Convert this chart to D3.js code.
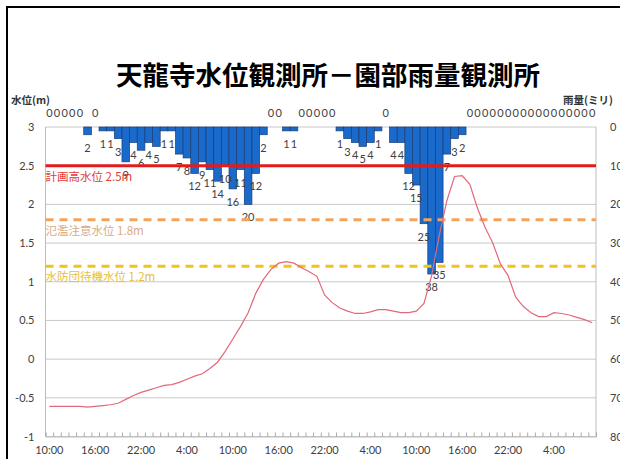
<!DOCTYPE html>
<html><head><meta charset="utf-8">
<script src="https://cdn.jsdelivr.net/npm/d3@7"></script>
<style>
html,body{margin:0;padding:0;background:#fff;}
svg{display:block;}
</style>
</head><body>
<svg id="c" width="620" height="459"></svg>
<script>
// ---- data ----
const categories = [
 "10:00","11:00","12:00","13:00","14:00","15:00","16:00","17:00","18:00","19:00","20:00","21:00",
 "22:00","23:00","0:00","1:00","2:00","3:00","4:00","5:00","6:00","7:00","8:00","9:00",
 "10:00","11:00","12:00","13:00","14:00","15:00","16:00","17:00","18:00","19:00","20:00","21:00",
 "22:00","23:00","0:00","1:00","2:00","3:00","4:00","5:00","6:00","7:00","8:00","9:00",
 "10:00","11:00","12:00","13:00","14:00","15:00","16:00","17:00","18:00","19:00","20:00","21:00",
 "22:00","23:00","0:00","1:00","2:00","3:00","4:00","5:00","6:00","7:00","8:00","9:00"
];
const rainfall = [
 0,0,0,0,0,2,0,1,1,3,9,4,
 6,4,5,1,1,7,8,12,9,11,14,10,
 16,11,20,12,2,0,0,1,1,0,0,0,
 0,0,1,3,4,5,4,1,0,4,4,12,
 15,25,38,35,7,3,2,0,0,0,0,0,
 0,0,0,0,0,0,0,0,0,0,0,0
];
const waterLevel = [
 -0.61,-0.61,-0.61,-0.61,-0.61,-0.62,-0.61,-0.60,-0.59,-0.57,-0.52,-0.47,
 -0.43,-0.40,-0.37,-0.34,-0.33,-0.30,-0.26,-0.22,-0.19,-0.12,-0.04,0.10,
 0.26,0.42,0.60,0.85,1.03,1.16,1.24,1.26,1.24,1.18,1.13,1.07,
 0.83,0.73,0.66,0.62,0.59,0.59,0.61,0.64,0.64,0.62,0.60,0.60,
 0.62,0.72,1.08,1.60,2.05,2.36,2.37,2.26,1.95,1.70,1.50,1.23,
 1.08,0.80,0.68,0.60,0.55,0.55,0.60,0.59,0.57,0.54,0.51,0.47
];
const tickLabels = ["10:00","16:00","22:00","4:00","10:00","16:00","22:00","4:00","10:00","16:00","22:00","4:00"];
const levelTicks = [3,2.5,2,1.5,1,0.5,0,-0.5,-1];
const rainTicks = [0,10,20,30,40,50,60,70,80];
const refValues = [2.5,1.8,1.2];
const refNames = ["計画高水位 2.5m","氾濫注意水位 1.8m","水防団待機水位 1.2m"];
const title = "天龍寺水位観測所－園部雨量観測所";

// ---- layout ----
const svg = d3.select("#c");
const L = 45.5, R = 596, T = 127, B = 436.5;
const numFont = "Lato, 'Noto Sans', sans-serif";
const jpFont = "'Noto Sans CJK JP', sans-serif";

svg.append("rect").attr("x",0).attr("y",0).attr("width",620).attr("height",459).attr("fill","#fff");
svg.append("rect").attr("x",7).attr("y",7).attr("width",640).attr("height",480)
  .attr("fill","none").attr("stroke","#000").attr("stroke-width",2);

const x = d3.scaleBand().domain(d3.range(categories.length)).range([L,R]).padding(0);
const xl = d3.scaleLinear().domain([0,categories.length]).range([L,R]);
const yL = d3.scaleLinear().domain([-1,3]).range([B,T]);
const yR = d3.scaleLinear().domain([0,80]).range([T,B]);
const bw = x.bandwidth();

// gridlines
svg.append("g").selectAll("line").data(levelTicks).join("line")
  .attr("x1",L).attr("x2",R).attr("y1",d=>yL(d)).attr("y2",d=>yL(d))
  .attr("stroke","#c8c8c8").attr("stroke-width",1);
svg.append("line").attr("x1",L).attr("x2",L).attr("y1",T).attr("y2",B).attr("stroke","#bdbdbd");
svg.append("line").attr("x1",R).attr("x2",R).attr("y1",T).attr("y2",B).attr("stroke","#bdbdbd");

// left axis
const gl = svg.append("g").attr("transform",`translate(${L},0)`)
  .call(d3.axisLeft(yL).tickValues(levelTicks).tickSize(0).tickPadding(11).tickFormat(d=>String(d)));
gl.select(".domain").remove();
gl.selectAll("text").attr("font-family",numFont).attr("font-size",11).attr("fill","#404040");

// right axis
const gr = svg.append("g").attr("transform",`translate(${R},0)`)
  .call(d3.axisRight(yR).tickValues(rainTicks).tickSize(0).tickPadding(14));
gr.select(".domain").remove();
gr.selectAll("text").attr("font-family",numFont).attr("font-size",11).attr("fill","#404040");

// bottom minor ticks
const gt = svg.append("g").attr("transform",`translate(0,${B})`)
  .call(d3.axisBottom(xl).tickValues(d3.range(categories.length+1)).tickSize(-4).tickFormat(""));
gt.select(".domain").attr("stroke","#bdbdbd");
gt.selectAll("line").attr("stroke","#a8a8a8");

// bottom labels
const gb = svg.append("g").attr("transform",`translate(0,${B})`)
  .call(d3.axisBottom(x).tickValues(d3.range(0,categories.length,6)).tickSize(0).tickPadding(10)
        .tickFormat((d,i)=>tickLabels[i]));
gb.select(".domain").remove();
gb.selectAll("text").attr("font-family",numFont).attr("font-size",11).attr("fill","#404040");

// bars
svg.append("g").selectAll("rect").data(rainfall.map((v,i)=>({v,i})).filter(d=>d.v>0)).join("rect")
  .attr("x",d=>x(d.i)).attr("width",bw)
  .attr("y",yR(0)).attr("height",d=>yR(d.v)-yR(0))
  .attr("fill","#1a6acb").attr("stroke","#1a3c74").attr("stroke-width",0.7);

// bar labels
svg.append("g").selectAll("text").data(rainfall.map((v,i)=>({v,i}))).join("text")
  .attr("x",d=>x(d.i)+bw/2)
  .attr("y",d=>d.v>0 ? yR(d.v)+17 : yR(0)-10)
  .attr("text-anchor","middle")
  .attr("font-family",numFont).attr("font-size",11).attr("fill","#404040")
  .text(d=>d.v);

// reference lines
const refStyle = [
  {c:"#e21b1b", dash:null, w:3, tc:"#e23a3a"},
  {c:"#f2a45e", dash:"8,6", w:3, tc:"#d9ab84"},
  {c:"#f0c419", dash:"8,6", w:3, tc:"#e6be3c"}
];
refValues.forEach((v,k)=>{
  const s = refStyle[k];
  const ln = svg.append("line").attr("x1",L).attr("x2",R).attr("y1",yL(v)).attr("y2",yL(v))
    .attr("stroke",s.c).attr("stroke-width",s.w);
  if (s.dash) ln.attr("stroke-dasharray",s.dash);
  svg.append("text").attr("x",L).attr("y",yL(v)+15)
    .attr("font-family",jpFont).attr("font-size",11.5).attr("fill",s.tc)
    .text(refNames[k]);
});

// water level line
svg.append("path").datum(waterLevel)
  .attr("d", d3.line().x((d,i)=>x(i)+bw/2).y(d=>yL(d)))
  .attr("fill","none").attr("stroke","#e2697a").attr("stroke-width",1.2);

// titles
svg.append("text").attr("x",328).attr("y",85).attr("text-anchor","middle")
  .attr("font-family",jpFont).attr("font-weight","bold").attr("font-size",26.5).attr("fill","#000")
  .text(title);
svg.append("text").attr("x",11).attr("y",104)
  .attr("font-family",jpFont).attr("font-weight","bold").attr("font-size",10.5).attr("fill","#333")
  .text("水位(m)");
svg.append("text").attr("x",563).attr("y",104)
  .attr("font-family",jpFont).attr("font-weight","bold").attr("font-size",10.5).attr("fill","#333")
  .text("雨量(ミリ)");
</script>
</body></html>
